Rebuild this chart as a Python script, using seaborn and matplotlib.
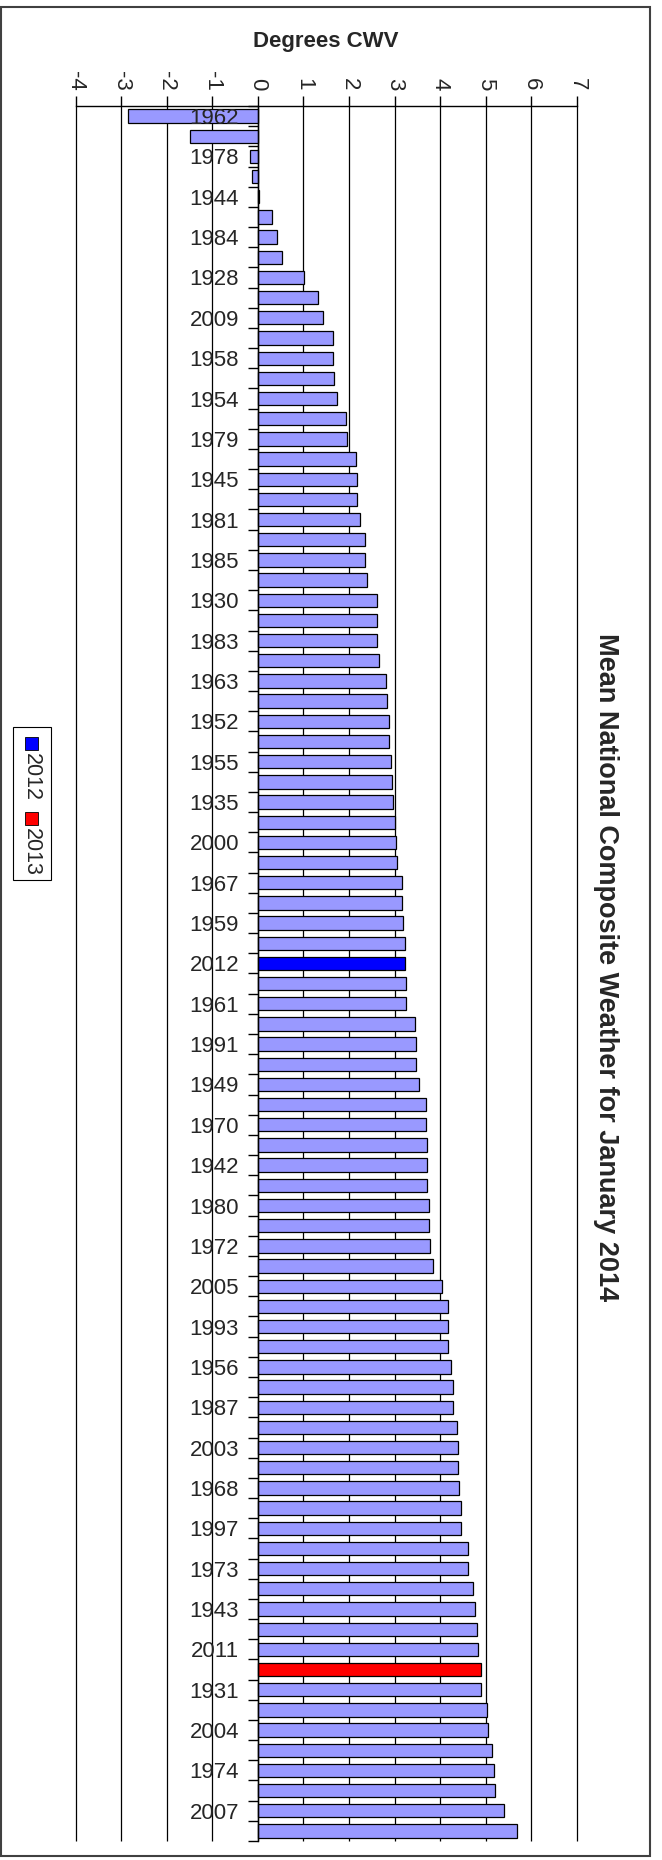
import numpy as np
import pandas as pd
import matplotlib.pyplot as plt
from matplotlib.patches import Rectangle
import seaborn as sns

# bars in chart order, top to bottom (every other year is labelled)
years = [1962, 1940, 1978, 1947, 1944, 1986, 1984, 1929, 1928, 1996,
         2009, 1937, 1958, 1969, 1954, 1951, 1979, 1941, 1945, 1964,
         1981, 1982, 1985, 1939, 1930, 1976, 1983, 1946, 1963, 1953,
         1952, 1966, 1955, 1960, 1935, 1998, 2000, 1971, 1967, 1936,
         1959, 1950, 2012, 1957, 1961, 1990, 1991, 2001, 1949, 1965,
         1970, 1933, 1942, 1977, 1980, 1994, 1972, 1948, 2005, 1992,
         1993, 1932, 1956, 1988, 1987, 2010, 2003, 1975, 1968, 1999,
         1997, 1934, 1973, 1989, 1943, 2006, 2011, 2013, 1931, 1995,
         2004, 2002, 1974, 1938, 2007, 2008]
cwv = [-2.85, -1.49, -0.17, -0.13, 0.03, 0.32, 0.41, 0.54, 1.01, 1.33,
       1.43, 1.65, 1.65, 1.68, 1.74, 1.93, 1.96, 2.15, 2.18, 2.18,
       2.25, 2.34, 2.34, 2.39, 2.62, 2.62, 2.62, 2.65, 2.82, 2.84,
       2.88, 2.88, 2.91, 2.94, 2.97, 3.00, 3.04, 3.06, 3.16, 3.16,
       3.19, 3.22, 3.23, 3.26, 3.26, 3.44, 3.47, 3.47, 3.53, 3.69,
       3.69, 3.72, 3.72, 3.72, 3.75, 3.75, 3.78, 3.85, 4.04, 4.17,
       4.17, 4.17, 4.23, 4.29, 4.29, 4.36, 4.39, 4.39, 4.42, 4.45,
       4.45, 4.61, 4.61, 4.71, 4.77, 4.80, 4.83, 4.89, 4.89, 5.02,
       5.05, 5.14, 5.18, 5.21, 5.40, 5.69]
highlight = {'2012': '#0000ff', '2013': '#ff0000'}
base_color = '#9999ff'
x_ticks = list(range(-4, 8))

sns.set_theme(style='white')
plt.rcParams['font.family'] = ['Liberation Sans', 'DejaVu Sans']
plt.rcParams['axes.unicode_minus'] = False

df = pd.DataFrame({'year': [str(y) for y in years], 'cwv': cwv})
palette = {y: highlight.get(y, base_color) for y in df['year']}
n = len(df)

W, H = 662, 1860
fig = plt.figure(figsize=(W / 100, H / 100), dpi=100)
ax = fig.add_axes([75.5 / W, 1 - 1841 / H, (577 - 75.5) / W, (1841 - 106) / H])

sns.barplot(data=df, x='cwv', y='year', hue='year', palette=palette,
            order=list(df['year']), legend=False, width=0.66,
            edgecolor='black', linewidth=0.9, saturation=1, orient='h', ax=ax)

ax.set_xlim(-4, 7)
ax.set_ylim(n - 0.5, -0.5)
ax.set_xlabel('')
ax.set_ylabel('')

# gridlines under the bars, axis (and year labels) drawn over them
ax.set_axisbelow(False)
ax.vlines(x_ticks, -0.5, n - 0.5, colors='black', linewidth=0.9, zorder=0.5, clip_on=False)

# value axis on top, labels turned like the rotated original
ax.xaxis.tick_top()
ax.set_xticks(x_ticks)
ax.set_xticklabels([str(v) for v in x_ticks], rotation=270, fontsize=16)
ax.tick_params(axis='x', direction='out', length=7, width=1, color='black',
               pad=4, top=True, bottom=False)

# category axis sits at zero
ax.spines['left'].set_position(('data', 0))
ax.spines['right'].set_visible(False)
ax.spines['bottom'].set_visible(False)
for s in ['left', 'top']:
    ax.spines[s].set_color('black')
    ax.spines[s].set_linewidth(1)

ax.set_yticks(np.arange(0, n, 2))
ax.set_yticklabels(list(df['year'][::2]), fontsize=16)
ax.set_yticks(np.arange(-0.5, n, 1), minor=True)
ax.tick_params(axis='y', which='major', length=0, pad=13.5, left=True)
ax.tick_params(axis='y', which='minor', length=7, width=1, color='black',
               direction='out', left=True)

fig.text(326 / W, 1 - 41 / H, 'Degrees CWV', fontsize=16, fontweight='bold',
         ha='center', va='center')
fig.text(606 / W, 1 - 967 / H, 'Mean National Composite Weather for January 2014',
         fontsize=19.5, fontweight='bold', rotation=270, ha='center', va='center')

# legend (rotated, drawn by hand)
fig.patches.append(Rectangle((13 / W, 1 - 880 / H), 38 / W, 153 / H, transform=fig.transFigure,
                             fill=False, edgecolor='black', lw=0.8))
for y0, key in [(737, '2012'), (812, '2013')]:
    fig.patches.append(Rectangle((25 / W, 1 - (y0 + 13) / H), 13 / W, 13 / H,
                                 transform=fig.transFigure, facecolor=highlight[key],
                                 edgecolor='black', lw=0.6))
    fig.text(31.5 / W, 1 - (y0 + 40) / H, key, fontsize=15.5, rotation=270,
             ha='center', va='center')

# outer frame
fig.patches.append(Rectangle((1 / W, 1 - 1856 / H), 649 / W, 1849 / H, transform=fig.transFigure,
                             fill=False, edgecolor='#404040', lw=1.5))

fig.savefig('out.png', dpi=100)
